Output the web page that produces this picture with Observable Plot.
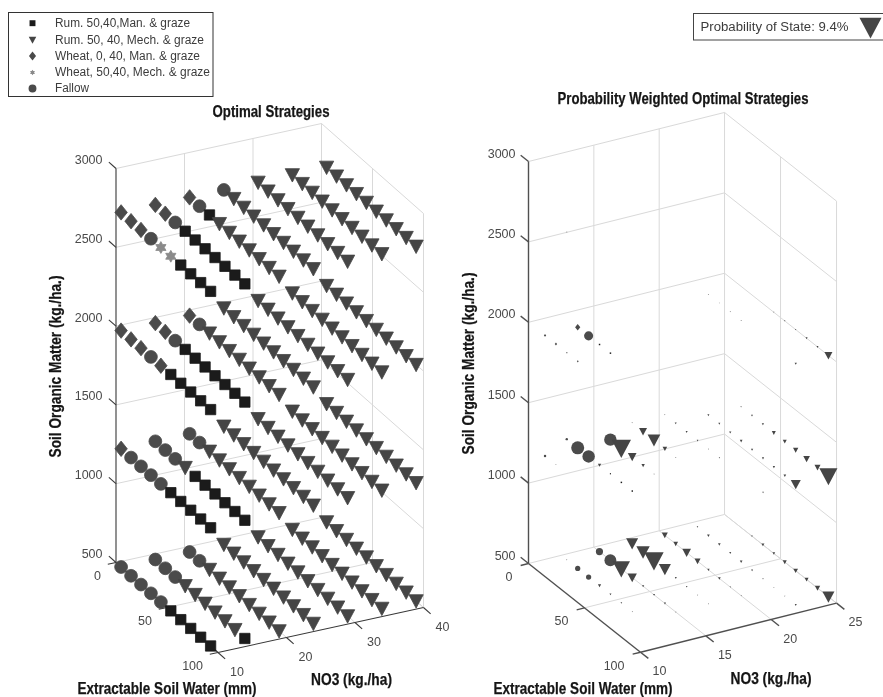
<!DOCTYPE html>
<html>
<head>
<meta charset="utf-8">
<style>html,body{margin:0;padding:0;background:#fff}svg{display:block;filter:blur(.35px)}</style>
<script src="https://cdn.jsdelivr.net/npm/d3@7"></script>
<script src="https://cdn.jsdelivr.net/npm/@observablehq/plot@0.6"></script>
</head>
<body>
<div id="chart"></div>
<script>
// ---- Data -------------------------------------------------------------
const waterLevels = [5,14.75,24.5,34.25,44,53.75,63.5,73.25,83,92.75];
const somLevels = [500,1250,2000,2750];
const no3LevelsLeft = [10,15,20,25,30,35,40];
const no3LevelsRight = [10,12.5,15,17.5,20,22.5,25];
const somTicks = [500,1000,1500,2000,2500,3000];
const waterTicks = [0,50,100];
const no3TicksLeft = [10,20,30,40];
const no3TicksRight = [10,15,20,25];

// R Rum Man, T Rum Mech, D Wheat 0,40, S Wheat 50,40, C Fallow
const strategy500  = ["CCCCCRRRRR","CCCTTTTTTR","CCTTTTTTTT","TTTTTTTTTT","TTTTTTTTTT","TTTTTTTTTT","TTTTTTTTTT"];
const strategy1250 = ["DCCCCRRRRR","CCCTRRRRRR","CCTTTTTTTT","TTTTTTTTTT","TTTTTTTTTT","TTTTTTTTTT","TTTTTTTTTT"];
const strategy2000 = ["DDDCDRRRRR","DDCRRRRRRR","DCTTTTTTTT","TTTTTTTTTT","TTTTTTTTTT","TTTTTTTTTT","TTTTTTTTTT"];
const strategy2750 = ["DDDCSSRRRR","DDCRRRRRRR","DCRTTTTTTT","CTTTTTTTTT","TTTTTTTTTT","TTTTTTTTTT","TTTTTTTTTT"];

// probability of state, percent
const prob500 = [
 [0,0,0,0,0,0,0,0,0,0],
 [.02,.66,.66,.2,.08,.05,.02,0,0,0],
 [1.25,3.4,5.84,1.69,.1,.08,.08,.02,0,0],
 [2.8,3.45,7.26,2.8,.08,.05,.02,.02,0,0],
 [.7,.42,1.46,.7,.1,.14,.035,.02,0,0],
 [.05,.14,.14,.08,.14,.08,.035,.02,.02,.08],
 [0,0,.05,.175,.14,.31,.42,.31,.55,2.8]];
const prob1250 = [
 [0,.14,.02,0,0,0,0,0,0,0],
 [.14,4.1,3.75,.22,.05,.08,.08,0,0,0],
 [0,3.75,7.26,1.46,.22,.02,0,0,0,0],
 [.02,1.24,3.12,.42,.02,0,0,0,0,0],
 [.02,.08,.08,.05,.02,.035,0,0,0,.05],
 [0,.08,.08,.1,.14,.1,.1,.1,.14,1.94],
 [0,.035,.08,.1,.31,.31,.55,.86,.7,6.3]];
const prob2000 = [
 [0,.14,.14,.035,.08,0,0,0,0,0],
 [0,.7,2,.08,.08,0,0,0,0,0],
 [0,0,0,0,0,0,0,0,0,0],
 [0,0,0,0,0,0,0,0,0,0],
 [0,0,0,0,0,0,0,0,0,0],
 [0,.02,.01,.02,.02,0,0,0,0,.1],
 [0,0,0,0,.02,.035,.035,.08,.08,1.24]];
const prob2750 = [
 [0,0,0,.02,0,0,0,0,0,0],
 [0,0,0,0,0,0,0,0,0,0],
 [0,0,0,0,0,0,0,0,0,0],
 [0,0,0,0,0,0,0,0,0,0],
 [0,0,0,0,0,0,0,0,0,0],
 [0,0,0,0,0,0,0,0,0,0],
 [0,0,0,0,0,0,0,0,0,0]];

const legendCodes = ["R","T","D","S","C"];
const legendLabels = ["Rum. 50,40,Man. & graze","Rum. 50, 40, Mech. & graze","Wheat, 0, 40, Man. & graze","Wheat, 50,40, Mech. & graze","Fallow"];
const legendProbability = 9.4;

// ---- Styles and layout -------------------------------------------------
const W = 883, H = 697;
const codeColors = ["#1b1b1b","#454545","#4a4a4a","#8a8a8a","#4b4b4b"];
const radius = s => Math.sqrt(s/Math.PI);
const symSquare = {draw(c,s){const h=radius(s)*.76;c.rect(-h,-h,2*h,2*h);}};
const symTri = {draw(c,s){const r=radius(s);c.moveTo(-1.05*r,-.92*r);c.lineTo(1.05*r,-.92*r);c.lineTo(0,1.05*r);c.closePath();}};
const symDiamond = {draw(c,s){const r=radius(s)*.93;c.moveTo(0,-1.22*r);c.lineTo(.98*r,0);c.lineTo(0,1.22*r);c.lineTo(-.98*r,0);c.closePath();}};
const symStar = {draw(c,s){const r=radius(s)*.87;for(let i=0;i<12;i++){const a=Math.PI*i/6,q=i%2?r*.58:r,x=q*Math.sin(a),y=-q*Math.cos(a);i?c.lineTo(x,y):c.moveTo(x,y);}c.closePath();}};
const symCircle = {draw(c,s){const r=radius(s)*.94;c.moveTo(r,0);c.arc(0,0,r,0,2*Math.PI);}};

// affine views of the three data axes on the page
const leftView = {no3Max:40,x0:115.5,y0:562,wx:1.02,wy:.9,nx:6.85,ny:-1.5,sy:-.1576};
const rightView = {no3Max:25,x0:528,y0:563,wx:1.12,wy:.887,nx:13.07,ny:-3.27,sy:-.1608};
const px = (v,w,n) => v.x0 + v.wx*w + v.nx*(n-10);
const py = (v,w,n,s) => v.y0 + v.wy*w + v.ny*(n-10) + v.sy*(s-500);

function segments(v,no3Ticks,tickN){
  const grid=[],axis=[];
  const seg=(arr,a,b)=>arr.push({x1:px(v,a[0],a[1]),y1:py(v,a[0],a[1],a[2]),x2:px(v,b[0],b[1]),y2:py(v,b[0],b[1],b[2])});
  for(const s of somTicks){seg(grid,[0,10,s],[0,v.no3Max,s]);seg(grid,[0,v.no3Max,s],[100,v.no3Max,s]);}
  for(const n of no3Ticks.slice(1)){seg(grid,[0,n,500],[0,n,3000]);seg(grid,[0,n,500],[100,n,500]);}
  for(const w of waterTicks.slice(1)){seg(grid,[w,v.no3Max,500],[w,v.no3Max,3000]);}
  seg(grid,[50,10,500],[50,v.no3Max,500]);
  seg(axis,[0,10,500],[0,10,3000]);
  seg(axis,[0,10,500],[100,10,500]);
  seg(axis,[100,10,500],[100,v.no3Max,500]);
  for(const s of somTicks)seg(axis,[0,10,s],[-7,10,s]);
  for(const w of waterTicks)seg(axis,[w,10,500],[w,10-tickN,500]);
  for(const n of no3Ticks)seg(axis,[100,n,500],[107,n,500]);
  return {grid,axis};
}
function cells(no3Levels,v,withProb){
  const out=[];
  const strat=[strategy500,strategy1250,strategy2000,strategy2750];
  const prob=[prob500,prob1250,prob2000,prob2750];
  somLevels.forEach((s,l)=>no3Levels.forEach((n,r)=>waterLevels.forEach((w,c)=>{
    const p=prob[l][r][c];
    if(withProb&&!p)return;
    out.push({x:px(v,w,n),y:py(v,w,n,s),code:strat[l][r][c],p});
  })));
  return out;
}
const leftSeg=segments(leftView,no3TicksLeft,1.2), rightSeg=segments(rightView,no3TicksRight,.6);
const tickRows=(v,no3Ticks)=>({
  som:somTicks.map(s=>({x:px(v,0,10),y:py(v,0,10,s),t:String(s)})),
  water:waterTicks.map(w=>({x:px(v,w,10),y:py(v,w,10,500),t:String(w)})),
  no3:no3Ticks.map(n=>({x:px(v,100,n),y:py(v,100,n,500),t:String(n)}))
});
const lt=tickRows(leftView,no3TicksLeft), rt=tickRows(rightView,no3TicksRight);
const tickText=(rows,o)=>Plot.text(rows,{x:"x",y:"y",text:"t",fontSize:12.5,fill:"#4a4a4a",...o});

const heads=[
 {x:270.5,y:111,t:"Optimal Strategies"},
 {x:682.5,y:98,t:"Probability Weighted Optimal Strategies"},
 {x:166.5,y:688,t:"Extractable Soil Water (mm)"},
 {x:582.5,y:688,t:"Extractable Soil Water (mm)"},
 {x:351,y:679,t:"NO3 (kg./ha)"},
 {x:770.5,y:678,t:"NO3 (kg./ha)"}
];
const sideHeads=[
 {x:55,y:366,t:"Soil Organic Matter (kg./ha.)"},
 {x:468,y:363,t:"Soil Organic Matter (kg./ha.)"}
];
const legendRows=legendCodes.map((code,i)=>({code,t:legendLabels[i],x:32,tx:54.5,y:[22.7,39.5,55.5,72,88][i],r:[3.9,3.6,3.9,3.2,4.2][i]}));
const widths=new Map([
 ["Optimal Strategies",117],["Probability Weighted Optimal Strategies",251],
 ["Extractable Soil Water (mm)",179],["NO3 (kg./ha)",81],["Soil Organic Matter (kg./ha.)",182],
 ["Rum. 50,40,Man. & graze",135],["Rum. 50, 40, Mech. & graze",149],["Wheat, 0, 40, Man. & graze",145],
 ["Wheat, 50,40, Mech. & graze",155],["Fallow",34],[`Probability of State: ${legendProbability}%`,148]
]);
const linkOf=(rows,o)=>Plot.link(rows,{x1:"x1",y1:"y1",x2:"x2",y2:"y2",...o});
const dotOpts={x:"x",y:"y",symbol:d=>d.code,fill:d=>d.code,sort:null};
const headStyle={x:"x",y:"y",text:"t",fontFamily:"'Liberation Sans Narrow','Liberation Sans',sans-serif",fontWeight:"bold",fontSize:17,fill:"#151515",stroke:"#151515",strokeWidth:.25};

const chart=Plot.plot({
  width:W,height:H,margin:0,
  style:{background:"#fff",fontFamily:"'Liberation Sans',Arial,sans-serif"},
  x:{domain:[0,W],range:[0,W],axis:null},
  y:{domain:[0,H],range:[0,H],axis:null},
  r:{type:"sqrt",domain:[0,legendProbability],range:[0,10.5]},
  symbol:{domain:legendCodes,range:[symSquare,symTri,symDiamond,symStar,symCircle]},
  color:{domain:legendCodes,range:codeColors},
  marks:[
    linkOf(leftSeg.grid,{stroke:"#d9d9d9",strokeWidth:1}),
    linkOf(rightSeg.grid,{stroke:"#d9d9d9",strokeWidth:1}),
    linkOf(leftSeg.axis,{stroke:"#383838",strokeWidth:1.1}),
    linkOf(rightSeg.axis,{stroke:"#505050",strokeWidth:1.4}),
    tickText(lt.som,{textAnchor:"end",dx:-13.5,dy:-8.5}),
    tickText(lt.water,{textAnchor:"end",dx:-15,dy:13}),
    tickText(lt.no3,{dx:19,dy:19}),
    tickText(rt.som,{textAnchor:"end",dx:-13,dy:-8}),
    tickText(rt.water,{textAnchor:"end",dx:-16,dy:13.5}),
    tickText(rt.no3,{dx:19,dy:19}),
    Plot.dot(cells(no3LevelsLeft,leftView,false),{...dotOpts,r:6.8,stroke:d=>d.code,strokeWidth:.8,strokeLinejoin:"round"}),
    Plot.dot(cells(no3LevelsRight,rightView,true),{...dotOpts,r:"p"}),
    Plot.text(heads,headStyle),
    Plot.text(sideHeads,{...headStyle,rotate:-90}),
    // strategy key
    Plot.rect([{a:8.5,b:213,c:12.5,d:96.5}],{x1:"a",x2:"b",y1:"c",y2:"d",fill:"#fff",stroke:"#333",strokeWidth:1}),
    ...legendRows.map(d=>Plot.dot([d],{x:"x",y:"y",symbol:e=>e.code,fill:e=>e.code,r:d.r})),
    Plot.text(legendRows,{x:"tx",y:"y",text:"t",textAnchor:"start",fontSize:12,fill:"#3c3c3c"}),
    // probability key
    Plot.rect([{a:693.5,b:884,c:13.5,d:40}],{x1:"a",x2:"b",y1:"c",y2:"d",fill:"#fff",stroke:"#444",strokeWidth:1}),
    Plot.text([{x:700,y:27,t:`Probability of State: ${legendProbability}%`}],{x:"x",y:"y",text:"t",textAnchor:"start",fontSize:12,fill:"#3c3c3c"}),
    Plot.dot([{x:870,y:27,code:"T",p:legendProbability}],{...dotOpts,r:"p"})
  ]
});
chart.querySelectorAll("text").forEach(el=>{
  const w=widths.get(el.textContent);
  if(w){el.setAttribute("textLength",w);el.setAttribute("lengthAdjust","spacingAndGlyphs");}
});
document.getElementById("chart").appendChild(chart);
</script>
</body>
</html>
